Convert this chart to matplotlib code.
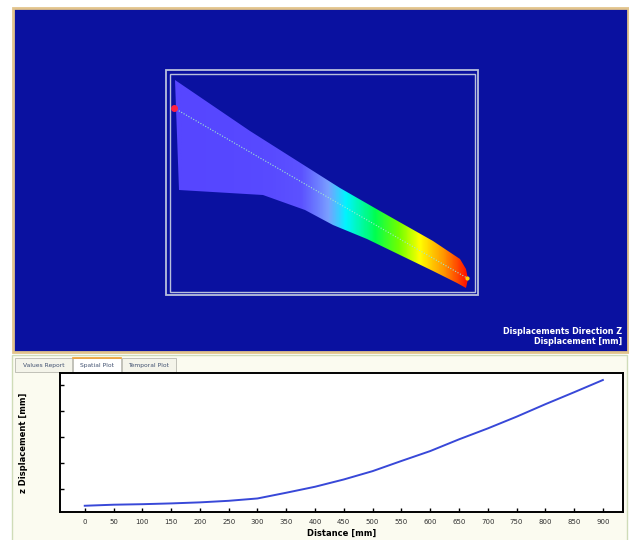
import numpy as np
import matplotlib
matplotlib.use('Agg')
import matplotlib.pyplot as plt
from matplotlib.patches import Rectangle, Polygon
from matplotlib.colors import LinearSegmentedColormap

# spatial plot data: distance along the probe line and z displacement
distance = [0, 50, 100, 150, 200, 250, 300, 350, 400, 450, 500, 550, 600, 650, 700, 750, 800, 850, 900]
z_disp = [0.36, 0.40, 0.42, 0.45, 0.49, 0.55, 0.64, 0.86, 1.09, 1.37, 1.69, 2.08, 2.46, 2.91, 3.33, 3.78, 4.26, 4.72, 5.19]
x_ticks = [0, 50, 100, 150, 200, 250, 300, 350, 400, 450, 500, 550, 600, 650, 700, 750, 800, 850, 900]
y_ticks = [1, 2, 3, 4, 5]
tab_names = ['Values Report', 'Spatial Plot', 'Temporal Plot']

# beam outline in the 3D view (screen pixels)
beam_x = [175, 250, 340, 380, 433, 460, 466, 468, 466, 457, 433, 400, 367, 333, 305, 263, 179]
beam_y = [80, 131, 188, 211, 241, 259, 269, 279, 288, 283, 271, 255, 239, 225, 210, 195, 190]
probe_start = (174, 108)
probe_end = (467, 278)

W, H = 629, 540
fig = plt.figure(figsize=(W / 100, H / 100), dpi=100)
fig.patch.set_facecolor('white')

# background axes in pixel coordinates
bg = fig.add_axes([0, 0, 1, 1])
bg.set_xlim(0, W)
bg.set_ylim(H, 0)
bg.axis('off')

# blue 3D view panel
bg.add_patch(Rectangle((13, 8), 615, 344, facecolor='#0a11a0', edgecolor='#e2c48c', lw=2, zorder=1))
bg.add_patch(Rectangle((166, 70), 312, 225, facecolor='none', edgecolor='#b8c0dc', lw=1.3, zorder=2))
bg.add_patch(Rectangle((170, 74), 305, 218, facecolor='none', edgecolor='#b8c0dc', lw=1.0, zorder=2))

# beam coloured by displacement
cmap = LinearSegmentedColormap.from_list('disp', [
    (0.0, '#5646ff'), (0.14, '#5c52ff'), (0.24, '#7aa0ff'), (0.32, '#00f4ff'),
    (0.47, '#00ff50'), (0.6, '#70ff00'), (0.72, '#ffff00'), (0.86, '#ff9a00'), (1.0, '#ff1400')])
xs = np.linspace(min(beam_x), max(beam_x), 400)
d = (xs - probe_start[0]) / (probe_end[0] - probe_start[0]) * max(distance)
v = np.interp(d, distance, z_disp)
v = (v - min(z_disp)) / (max(z_disp) - min(z_disp))
img = np.tile(v, (2, 1))
beam = Polygon(list(zip(beam_x, beam_y)), closed=True, facecolor='none', edgecolor='none', zorder=3)
bg.add_patch(beam)
im = bg.imshow(img, cmap=cmap, aspect='auto', interpolation='bilinear', zorder=3,
               extent=(min(beam_x), max(beam_x), max(beam_y), min(beam_y)))
im.set_clip_path(beam)
bg.set_xlim(0, W)
bg.set_ylim(H, 0)

bg.plot([probe_start[0], probe_end[0]], [probe_start[1], probe_end[1]],
        ls=(0, (1, 1.5)), color='#9fe8d0', lw=0.8, zorder=4)
bg.plot(*probe_start, 'o', color='#ff2040', ms=4, zorder=5)
bg.plot(*probe_end, 'o', color='#ffd000', ms=2, zorder=5)

bg.text(622, 331, 'Displacements Direction Z', color='white', fontsize=5.8,
        fontweight='bold', ha='right', va='center')
bg.text(622, 342, 'Displacement [mm]', color='white', fontsize=5.8,
        fontweight='bold', ha='right', va='center')

# lower pane with tabs
bg.add_patch(Rectangle((12, 355), 615, 186, facecolor='#fbfbf0', edgecolor='#cfdcb8', lw=1))
tab_x = [15, 73, 122]
tab_w = [57, 48, 54]
for name, tx, tw in zip(tab_names, tab_x, tab_w):
    active = name == 'Spatial Plot'
    bg.add_patch(Rectangle((tx, 358), tw, 14, facecolor='white' if active else '#f4f4ea',
                           edgecolor='#b8b8b0', lw=0.6))
    if active:
        bg.plot([tx, tx + tw], [358, 358], color='#f0a030', lw=1.2)
    bg.text(tx + tw / 2, 365.5, name, fontsize=4.3, color='#405070', ha='center', va='center')

# spatial plot
ax = fig.add_axes([60 / W, 1 - 512 / H, 563 / W, 139 / H])
ax.set_facecolor('white')
ax.plot(distance, z_disp, color='#3848d8', lw=1.4)
ax.set_xlim(-43, 935)
ax.set_ylim(0.12, 5.46)
ax.set_xticks(x_ticks)
ax.set_xticklabels([str(t) for t in x_ticks], fontsize=5, color='#303030')
ax.set_yticks(y_ticks)
ax.set_yticklabels([])
ax.tick_params(direction='in', length=3, width=1, pad=5)
for s in ax.spines.values():
    s.set_linewidth(1.4)
ax.set_xlabel('Distance [mm]', fontsize=6, fontweight='bold', labelpad=3)
ax.set_ylabel('z Displacement [mm]', fontsize=6, fontweight='bold', labelpad=18)

fig.savefig('out.png', dpi=100)
